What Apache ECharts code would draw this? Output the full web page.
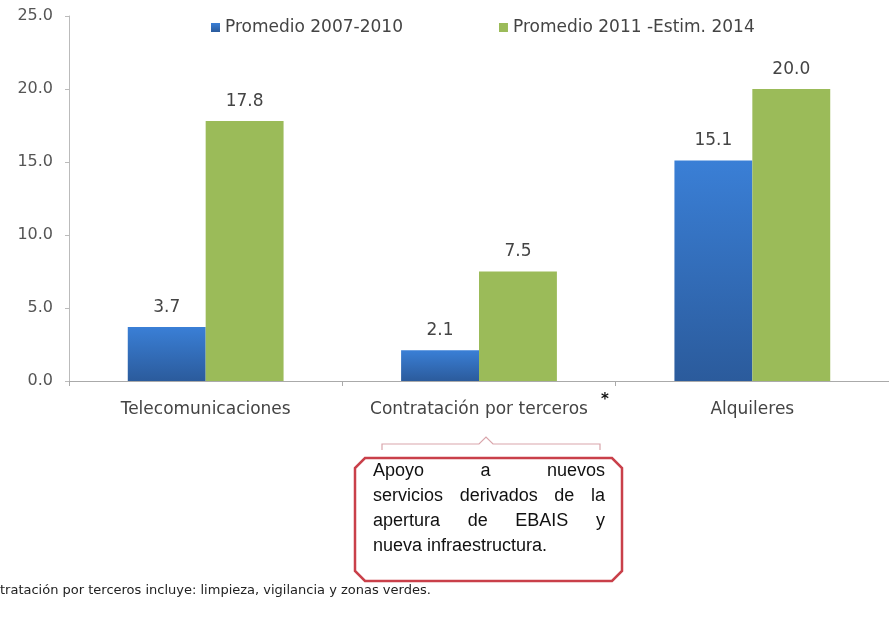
<!DOCTYPE html>
<html>
<head>
<meta charset="utf-8">
<script src="https://cdn.jsdelivr.net/npm/echarts@6/dist/echarts.min.js"></script>
<style>
  html, body { margin: 0; padding: 0; background: #fff; }
  #chart { width: 889px; height: 628px; }
</style>
</head>
<body>
<div id="chart"></div>
<script>
const categories = ['Telecomunicaciones', 'Contratación por terceros', 'Alquileres'];
const seriesNames = ['Promedio 2007-2010', 'Promedio 2011 -Estim. 2014'];
const promedio2007 = [3.7, 2.1, 15.1];
const promedio2011 = [17.8, 7.5, 20.0];
const yTicks = [0, 5, 10, 15, 20, 25];

const calloutLines = [
  'Apoyo a nuevos',
  'servicios derivados de la',
  'apertura de EBAIS y',
  'nueva infraestructura.'
];
const footnote = 'tratación por terceros incluye: limpieza, vigilancia y zonas verdes.';

const chart = echarts.init(document.getElementById('chart'));
const baseFont = '"DejaVu Sans", Verdana, sans-serif';

// justified text for the callout box
const boxFont = '18px "Liberation Sans", Arial, sans-serif';
const ctx = document.createElement('canvas').getContext('2d');
ctx.font = boxFont;
const boxLeft = 373, boxRight = 605, lineTop = 462, lineH = 25;
const calloutText = [];
calloutLines.forEach(function (line, i) {
  const words = line.split(' ');
  const y = lineTop + i * lineH;
  const justify = i < calloutLines.length - 1;
  const widths = words.map(function (w) { return ctx.measureText(w).width; });
  const total = widths.reduce(function (a, b) { return a + b; }, 0);
  const gap = justify && words.length > 1
    ? (boxRight - boxLeft - total) / (words.length - 1)
    : ctx.measureText(' ').width;
  let x = boxLeft;
  words.forEach(function (w, k) {
    calloutText.push({
      type: 'text', x: x, y: y,
      style: { text: w, font: boxFont, fill: '#111' }
    });
    x += widths[k] + gap;
  });
});

const blueGrad = new echarts.graphic.LinearGradient(0, 0, 0, 1, [
  { offset: 0, color: '#3a7fd6' },
  { offset: 1, color: '#2b5b9c' }
]);

const option = {
  animation: false,
  textStyle: { fontFamily: baseFont },
  legend: {
    top: 14,
    left: 206,
    itemGap: 96,
    itemWidth: 9,
    itemHeight: 9,
    icon: 'rect',
    textStyle: { fontSize: 17, color: '#444', fontFamily: baseFont },
    data: seriesNames
  },
  grid: { left: 69, right: -8, top: 16, bottom: 247 },
  xAxis: {
    type: 'category',
    data: categories,
    axisLine: { lineStyle: { color: '#aaa' } },
    axisTick: { show: true, length: 5, lineStyle: { color: '#aaa' } },
    axisLabel: {
      interval: 0,
      fontSize: 17, color: '#444', margin: 20, fontFamily: baseFont
    }
  },
  yAxis: {
    type: 'value',
    min: 0, max: 25, interval: 5,
    axisLine: { show: true, lineStyle: { color: '#bbb' } },
    axisTick: { show: true, length: 4, lineStyle: { color: '#bbb' } },
    splitLine: { show: false },
    axisLabel: {
      fontSize: 16, color: '#555', margin: 16, fontFamily: baseFont,
      formatter: function (v) { return yTicks.indexOf(v) >= 0 ? v.toFixed(1) : ''; }
    }
  },
  series: [
    {
      name: seriesNames[0],
      type: 'bar',
      data: promedio2007,
      barGap: '0%',
      barCategoryGap: '43%',
      itemStyle: { color: blueGrad },
      label: {
        show: true, position: 'top', distance: 11,
        fontSize: 17, color: '#444', fontFamily: baseFont,
        formatter: function (p) { return p.value.toFixed(1); }
      }
    },
    {
      name: seriesNames[1],
      type: 'bar',
      data: promedio2011,
      itemStyle: { color: '#9bbb59' },
      label: {
        show: true, position: 'top', distance: 11,
        fontSize: 17, color: '#444', fontFamily: baseFont,
        formatter: function (p) { return p.value.toFixed(1); }
      }
    }
  ],
  graphic: [
    {
      type: 'text', x: 601, y: 393,
      style: { text: '*', font: 'bold 15px ' + baseFont, fill: '#111' }
    },
    {
      type: 'polyline',
      shape: { points: [[382, 450], [382, 444], [479, 444], [486, 437], [493, 444], [600, 444], [600, 450]] },
      style: { stroke: '#d9a5ab', lineWidth: 1.2, fill: null }
    },
    {
      type: 'polygon',
      shape: { points: [[365, 458], [612, 458], [622, 468], [622, 571], [612, 581], [365, 581], [355, 571], [355, 468]] },
      style: { stroke: '#c9404a', lineWidth: 2.5, fill: '#fff' }
    }
  ].concat(calloutText).concat([
    {
      type: 'text', x: 0, y: 584,
      style: { text: footnote, font: '13px ' + baseFont, fill: '#222' }
    }
  ])
};

chart.setOption(option);
</script>
</body>
</html>
